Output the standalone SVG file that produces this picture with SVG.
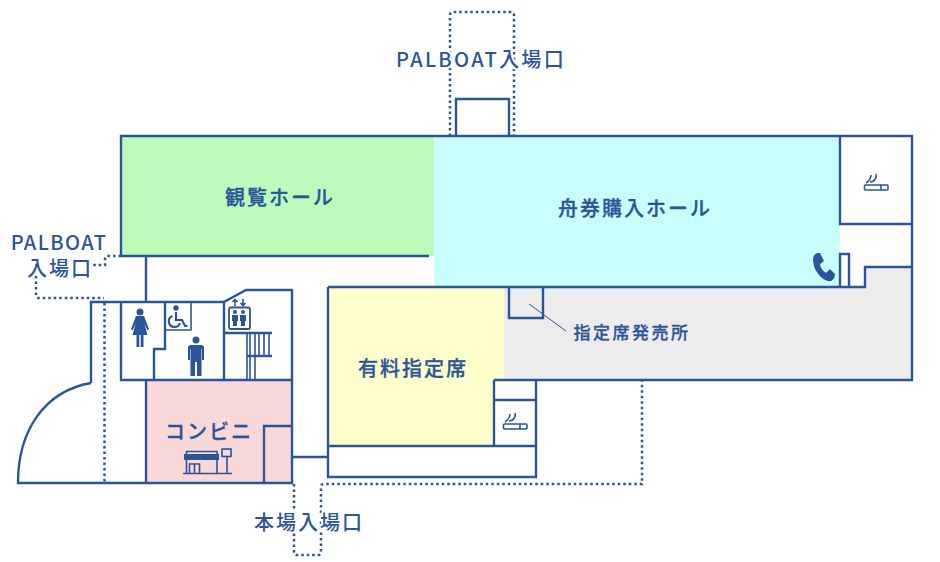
<svg xmlns="http://www.w3.org/2000/svg" width="940" height="562" viewBox="0 0 940 562">
<style>
.w{fill:none;stroke:#2a5599;stroke-width:2.400}
.t{fill:none;stroke:#2a5599;stroke-width:1.600}
.d{fill:none;stroke:#2a5599;stroke-width:2.500;stroke-dasharray:2.500 3}
.i{fill:#2a5599}
.l{font-family:"Noto Sans CJK JP","Noto Sans",sans-serif;font-weight:500;fill:#2a5599;font-size:20px;letter-spacing:2px;text-anchor:middle;stroke:#fff;stroke-width:4px;paint-order:stroke;stroke-linejoin:round}
.n{stroke:#2a5599;stroke-width:.3px}
</style>
<rect width="940" height="562" fill="#fff"/>
<g id="fills">
<rect x="122" y="137" width="312" height="119" fill="#bbfabb"/>
<rect x="434" y="137" width="406" height="150" fill="#c8ffff"/>
<path d="M504 288H865V267H912V380H504Z" fill="#ececec"/>
<path d="M329 288H504V380H494V446H329Z" fill="#ffffcb"/>
<rect x="147" y="380" width="145" height="103" fill="#f9d8da"/>
</g>
<g id="connectors">
<path class="d" d="M450 136V15Q450 12 453 12H511Q514 12 514 15V136"/>
<path class="d" d="M121 256H108Q105 256 105 259V265H88"/>
<path class="d" d="M36 276V295Q36 298 39 298H104"/>
<path class="d" d="M104.500 303V482"/>
<path class="d" d="M294 484V552Q294 555 297 555H318Q321 555 321 552V487Q321 484 324 484H642V381"/>
</g>
<g id="walls">
<path class="w" d="M121 256V136H912V380H494"/>
<path class="w" d="M121 256H429"/>
<path class="w" d="M146 256V302"/>
<path class="w" d="M328 287H865V267H912"/>
<path class="w" d="M840 136V224H912"/>
<path class="w" d="M840 287V254H849V287"/>
<path class="w" d="M456 136V99H509V136"/>
<path class="w" d="M328 287V477H536V380"/>
<path class="w" d="M328 446H536"/>
<path class="w" d="M494 380V446"/>
<path class="w" d="M494 400H536"/>
<path class="w" d="M509 288V318H543V288"/>
<path d="M529 304L566 331" stroke="#2a5599" stroke-width="1" fill="none"/>
<path class="w" d="M91 383V302H224"/>
<path class="w" d="M91 383C45 391 18 430 18 483H292V290H246L224 302V380"/>
<path class="w" d="M121 302V380H292"/>
<path class="w" d="M165 302V349H154V380"/>
<path class="t" d="M165 330H191V302"/>
<path class="w" d="M146 380V483"/>
<path class="w" d="M264 483V426H292"/>
<path class="w" d="M292 457H328"/>
<path class="w" d="M224 333H272"/>
<path class="w" d="M247 356H272"/>
<path class="t" d="M247 333V380M250 333V380M255 333V380M259 333V356M264 333V356M269 333V356"/>
</g>
<g id="icon-smoking-1">
<rect class="t" x="864.500" y="185" width="23.500" height="5" rx="1"/>
<path class="t" d="M881 185V190M866 183C869 181 871 178 871 175M870 182C875 182 877 177 876 174"/>
</g>
<g id="icon-smoking-2">
<rect class="t" x="503.500" y="424" width="23.500" height="5" rx="1"/>
<path class="t" d="M520 424V429M505 422C508 420 510 417 510 414M509 421C514 421 516 416 515 413"/>
</g>
<g id="icon-phone">
<path class="i" d="M813 259Q813 255 817 253L820 253L824 261L820 264Q821 270 826 273L830 269L835 274Q835 279 831 281Q825 282 819 275Q813 268 813 259Z"/>
</g>
<g id="icon-woman">
<circle class="i" cx="140" cy="312" r="3.500"/>
<path class="i" d="M136 316H144L149 329L147.500 330.500L144.500 324L147.500 335H143.500V347H140.700V335H139.300V347H136.500V335H132.500L135.500 324L132.500 330.500L131 329Z"/>
</g>
<g id="icon-man">
<circle class="i" cx="196" cy="340" r="3.500"/>
<path class="i" d="M191 345H201Q204 345 204 348V360H202V349H201.500V376H197V362H195V376H190.500V349H190V360H188V348Q188 345 191 345Z"/>
</g>
<g id="icon-wheelchair">
<circle class="i" cx="176" cy="308" r="2.700"/>
<path fill="none" stroke="#2a5599" stroke-width="2.200" d="M176 312V320H182L185 326H187.500M172.500 316C167 318 168 327 174.500 327C177.500 327 179.500 325 180 323"/>
</g>
<g id="icon-elevator">
<rect x="229" y="307.500" width="21" height="21.500" rx="2" fill="none" stroke="#2a5599" stroke-width="1.800"/>
<path class="t" d="M235 306V300M232.500 302L235 299.500L237.500 302M243 299V305M240.500 303L243 305.500L245.500 303"/>
<circle class="i" cx="235" cy="312" r="2"/><circle class="i" cx="243" cy="312" r="2"/>
<path class="i" d="M232 315H238V321H237V326H233V321H232ZM240 315H246V321H245V326H241V321H240Z"/>
</g>
<g id="icon-store">
<path class="t" d="M183 473.500H232M186.500 473V451.500H217V473M189.500 473V464H199.500V473M194.500 464V473M227 456V473"/>
<rect class="i" x="184" y="454" width="35" height="6"/>
<rect class="t" x="222" y="449" width="9" height="7.500"/>
</g>
<g id="labels">
<text class="l n" x="280" y="205">観覧ホール</text>
<text class="l n" x="635" y="216">舟券購入ホール</text>
<text class="l n" x="413" y="376">有料指定席</text>
<text class="l n" x="209" y="439">コンビニ</text>
<text class="l n" x="632" y="339" style="font-size:17px;letter-spacing:2.500px">指定席発売所</text>
<text class="l" x="481" y="67" style="letter-spacing:2.300px">PALBOAT入場口</text>
<text class="l" x="59" y="250" style="letter-spacing:1.400px">PALBOAT</text>
<text class="l" x="60" y="276">入場口</text>
<text class="l" x="309" y="530">本場入場口</text>
</g>
</svg>
